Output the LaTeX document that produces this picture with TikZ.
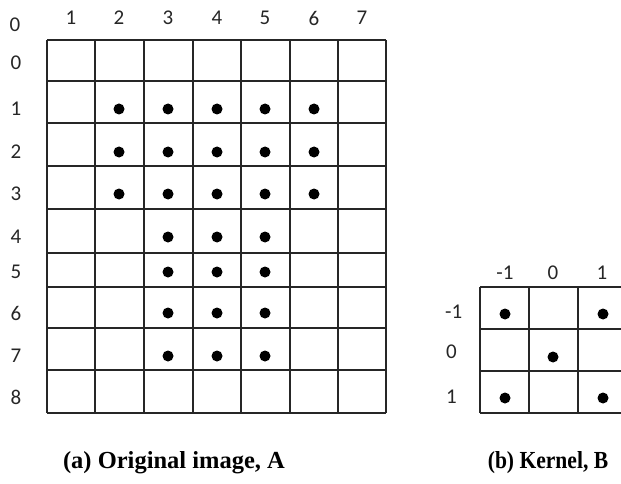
\documentclass[tikz,border=0pt]{standalone}
\usepackage{fontspec}
\setmainfont{Carlito}
\newfontfamily\capfont{Liberation Serif}
\begin{document}
\begin{tikzpicture}[x=1pt,y=-1pt,
  gridline/.style={line width=1.3pt,black!85},
  lbl/.style={font=\fontsize{21}{21}\selectfont,inner sep=0pt,text=black!85},
  capt/.style={font=\capfont\bfseries\fontsize{24.5}{25}\selectfont,inner sep=0pt},
  pix/.style={circle,fill=black,inner sep=0pt,minimum size=11pt}]
\useasboundingbox (0,0) rectangle (621,484);
\clip (0,0) rectangle (621,484);
% grid A
\foreach \x in {47,95,144,193,241,290,338,386}
  \draw[gridline] (\x,40) -- (\x,413);
\foreach \y in {40,81,123,166,209,253,287,328,370,413}
  \draw[gridline] (47,\y) -- (386,\y);
% column labels A
\node[lbl] (c0) at (15,25) {0};
\foreach \i/\x in {1/71,2/119,3/168,4/217,5/265,6/314,7/362}
  \node[lbl] (c\i) at (\x,18) {\i};
% row labels A
\foreach \i/\y in {0/63,1/109,2/152,3/194,4/237,5/272,6/313,7/356,8/397}
  \node[lbl] (r\i) at (16,\y) {\i};
% dots A
\foreach \r/\y in {1/109,2/152,3/194}
  \foreach \c/\x in {2/119,3/168,4/217,5/265,6/314}
    \node[pix] (a\r\c) at (\x,\y) {};
\foreach \r/\y in {4/237,5/272,6/313,7/356}
  \foreach \c/\x in {3/168,4/217,5/265}
    \node[pix] (a\r\c) at (\x,\y) {};
% kernel B
\foreach \x in {480,529,578,627}
  \draw[gridline] (\x,287) -- (\x,413);
\foreach \y in {287,329,371,413}
  \draw[gridline] (480,\y) -- (627,\y);
\node[lbl] (kc1) at (505,273) {-1};
\node[lbl] (kc2) at (553,273) {0};
\node[lbl] (kc3) at (602,273) {1};
\node[lbl,anchor=west] (kr1) at (445,312) {-1};
\node[lbl,anchor=west] (kr2) at (446,352) {0};
\node[lbl,anchor=west] (kr3) at (446,397) {1};
\node[pix] (b11) at (505,314) {};
\node[pix] (b13) at (603,314) {};
\node[pix] (b22) at (553,357) {};
\node[pix] (b31) at (505,398) {};
\node[pix] (b33) at (603,398) {};
% captions
\node[capt] (capa) at (174,463) {(a) Original image, A};
\node[capt,xscale=0.88,transform shape] (capb) at (548,463) {(b) Kernel, B};
\end{tikzpicture}
\end{document}
